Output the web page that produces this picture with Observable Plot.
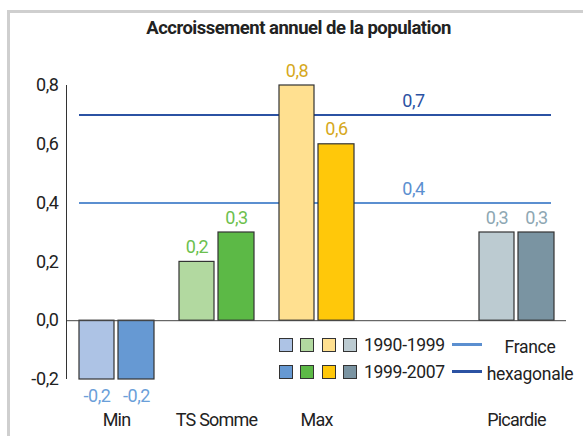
<!DOCTYPE html>
<html>
<head>
<meta charset="utf-8">
<script src="https://cdn.jsdelivr.net/npm/d3@7"></script>
<script src="https://cdn.jsdelivr.net/npm/@observablehq/plot@0.6"></script>
<style>
  body { margin: 0; background: #fff; }
  #wrap { position: relative; width: 583px; height: 436px; overflow: hidden;
          font-family: Roboto, "Liberation Sans", sans-serif; color: #222; }
  #box { position: absolute; left: 7px; top: 10px; width: 700px; height: 600px;
         border-left: 3px solid #cfcfcf; border-top: 3px solid #cfcfcf; pointer-events: none; }
  #title { position: relative; height: 45px; box-sizing: border-box; padding-top: 17px;
           text-align: center; font-weight: bold; font-size: 18.5px; letter-spacing: -0.5px;
           line-height: 22px; padding-left: 14px; }
  #chart svg { display: block; }
  #chart svg text { letter-spacing: -0.4px; }
  #chart [aria-label^="x-axis"] text { font-size: 18px; letter-spacing: -0.8px; }
  .sq { position: absolute; width: 12px; height: 12px; border: 1px solid #333; }
  .lt { position: absolute; font-size: 17.5px; line-height: 20px; white-space: nowrap; letter-spacing: -0.3px; }
  .ln { position: absolute; width: 30px; height: 3px; }
</style>
</head>
<body>
<div id="wrap">
  <div id="box"></div>
  <div id="title">Accroissement annuel de la population</div>
  <div id="chart"></div>
  <div id="legend"></div>
</div>
<script>
// ---- data ----
const categories = ["Min", "TS Somme", "Max", " ", "Picardie"];
const barCategories = ["Min", "TS Somme", "Max", "Picardie"];
const periods = ["1990-1999", "1999-2007"];
const values1990 = [-0.2, 0.2, 0.8, 0.3];
const values1999 = [-0.2, 0.3, 0.6, 0.3];
const lightColors = ["#adc3e5", "#b2d9a0", "#ffe090", "#bccbd1"];
const darkColors  = ["#6699d3", "#5cb946", "#ffc80a", "#7a94a2"];
const labelColors = ["#6b9fd9", "#6cc04e", "#d6a81c", "#8ea7b3"];
const refValues = [0.4, 0.7];
const refColors = ["#5b8fd0", "#2b52a3"];
const refName = ["France", "hexagonale"];
const yTicks = [-0.2, 0, 0.2, 0.4, 0.6, 0.8];

const fmt = v => v.toFixed(1).replace(".", ",");

const rows1990 = barCategories.map((c, i) => ({cat: c, v: values1990[i], fill: lightColors[i], lab: labelColors[i]}));
const rows1999 = barCategories.map((c, i) => ({cat: c, v: values1999[i], fill: darkColors[i], lab: labelColors[i]}));
const refs = refValues.map((v, i) => ({v, color: refColors[i]}));

const font = 'Roboto, "Liberation Sans", sans-serif';
const band = 100; // category step in px (x range 66..566 over 5 categories)

function valueLabels(rows, dx) {
  return [
    Plot.text(rows.filter(d => d.v >= 0), {x: "cat", y: "v", text: d => fmt(d.v), fill: "lab",
      dx, dy: -9, lineAnchor: "bottom", fontSize: 18}),
    Plot.text(rows.filter(d => d.v < 0), {x: "cat", y: "v", text: d => fmt(d.v), fill: "lab",
      dx, dy: 10, lineAnchor: "top", fontSize: 18})
  ];
}

const chart = Plot.plot({
  width: 583,
  height: 391,
  marginLeft: 79,
  marginRight: 32,
  marginTop: 40,
  marginBottom: 57,
  style: {fontFamily: font, fontSize: "18px", color: "#222", background: "transparent", overflow: "visible"},
  x: {domain: categories, range: [66, 566], padding: 0, tickSize: 0, tickPadding: 34, label: null,
      tickFormat: d => d.trim()},
  y: {domain: [-0.2, 0.8], ticks: yTicks, tickFormat: fmt, tickSize: 0, tickPadding: 21, label: null},
  color: {type: "identity"},
  marks: [
    Plot.ruleY(refs, {y: "v", stroke: "color", strokeWidth: 2}),
    Plot.barY(rows1990, {x: "cat", y: "v", fill: "fill", stroke: "#333", strokeWidth: 1.2, insetLeft: 13, insetRight: 52}),
    Plot.barY(rows1999, {x: "cat", y: "v", fill: "fill", stroke: "#333", strokeWidth: 1.2, insetLeft: 52, insetRight: 12}),
    Plot.ruleY([0], {x1: d => "Min", x2: d => "Picardie", stroke: "#444", strokeWidth: 1}),
    Plot.ruleX(["Min"], {x: d => d, y1: d => -0.2, y2: d => 0.8, dx: -band / 2, stroke: "#333", strokeWidth: 1}),
    ...valueLabels(rows1990, -19.5),
    ...valueLabels(rows1999, 20),
    Plot.text(refs, {x: d => " ", y: "v", text: d => fmt(d.v), fill: "color", dx: -3, dy: -8, lineAnchor: "bottom", fontSize: 18})
  ]
});
document.getElementById("chart").appendChild(chart);

// ---- legend (HTML overlay) ----
const lg = document.getElementById("legend");
const rowColors = [lightColors, darkColors];
periods.forEach((p, r) => {
  const top = 338 + r * 27;
  rowColors[r].forEach((c, j) => {
    const s = document.createElement("div");
    s.className = "sq";
    s.style.left = (279 + j * 21.4) + "px";
    s.style.top = top + "px";
    s.style.background = c;
    lg.appendChild(s);
  });
  const t = document.createElement("div");
  t.className = "lt";
  t.style.left = "364px";
  t.style.top = (top - 3) + "px";
  t.textContent = p;
  lg.appendChild(t);
  const l = document.createElement("div");
  l.className = "ln";
  l.style.left = "452px";
  l.style.top = (top + 5) + "px";
  l.style.background = refColors[r];
  lg.appendChild(l);
  const n = document.createElement("div");
  n.className = "lt";
  n.style.left = "530px";
  n.style.transform = "translateX(-50%)";
  n.style.top = (top - 1) + "px";
  n.textContent = refName[r];
  lg.appendChild(n);
});
</script>
</body>
</html>
